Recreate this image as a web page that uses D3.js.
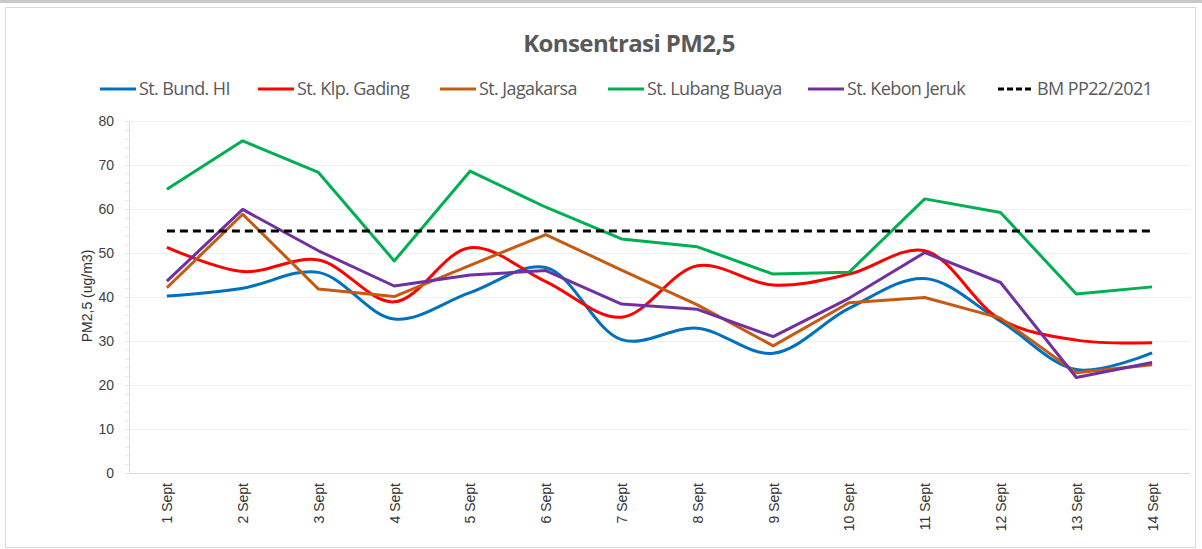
<!DOCTYPE html>
<html><head><meta charset="utf-8">
<script src="https://cdn.jsdelivr.net/npm/d3@7"></script>
<style>body{margin:0;background:#fff;}svg{display:block;}</style>
</head><body>
<svg id="c" width="1202" height="549"></svg>
<script>
const categories = ["1 Sept","2 Sept","3 Sept","4 Sept","5 Sept","6 Sept","7 Sept","8 Sept","9 Sept","10 Sept","11 Sept","12 Sept","13 Sept","14 Sept"];
const bundHI    = [40.2,42.0,45.6,35.0,41.0,46.7,30.3,32.9,27.2,37.4,44.2,34.5,23.5,27.3];
const klpGading = [51.3,45.8,48.4,38.9,51.2,43.5,35.4,47.1,42.7,45.2,50.5,34.9,30.2,29.6];
const jagakarsa = [42.1,58.8,41.8,40.1,47.2,54.2,46.1,38.2,28.9,38.7,39.9,35.2,22.8,24.6];
const lubangBuaya = [64.5,75.5,68.3,48.2,68.6,60.4,53.2,51.4,45.2,45.6,62.3,59.2,40.7,42.3];
const kebonJeruk = [43.6,59.9,50.5,42.5,45.0,46.0,38.4,37.2,31.0,39.7,50.1,43.3,21.7,25.1];
const bmPP = [55,55,55,55,55,55,55,55,55,55,55,55,55,55];
const yTicks = [0,10,20,30,40,50,60,70,80];

const series = [
  {name:"St. Bund. HI", values:bundHI, color:"#0070C0", smooth:true, lx:100},
  {name:"St. Klp. Gading", values:klpGading, color:"#FF0000", smooth:true, lx:258},
  {name:"St. Jagakarsa", values:jagakarsa, color:"#C55A11", smooth:false, lx:440},
  {name:"St. Lubang Buaya", values:lubangBuaya, color:"#00B050", smooth:false, lx:608},
  {name:"St. Kebon Jeruk", values:kebonJeruk, color:"#7030A0", smooth:false, lx:808},
  {name:"BM PP22/2021", values:bmPP, color:"#000000", smooth:false, dash:"8,5", lx:998}
];

const svg = d3.select("#c");
// frame
svg.append("rect").attr("x",0).attr("y",0).attr("width",1202).attr("height",3).attr("fill","#c8c8c8");
svg.append("rect").attr("x",5.5).attr("y",7.5).attr("width",1190).attr("height",540).attr("fill","none").attr("stroke","#d9d9d9");

const L=129, R=1190, T=121, B=473;
const x = d3.scalePoint().domain(categories).range([L,R]).padding(0.5);
const y = d3.scaleLinear().domain([0,80]).range([B,T]);

// gridlines
svg.append("g").selectAll("line").data(yTicks.filter(d=>d>0)).join("line")
  .attr("x1",L).attr("x2",R).attr("y1",d=>y(d)+0.5).attr("y2",d=>y(d)+0.5)
  .attr("stroke","#f0f0f0").attr("stroke-width",1);

// y axis
const yAxis = svg.append("g").attr("transform",`translate(${L},0)`)
  .call(d3.axisLeft(y).tickValues(yTicks).tickSize(0).tickPadding(15));
yAxis.select(".domain").attr("stroke","#d9d9d9");
yAxis.selectAll("text").attr("fill","#404040").style("font-family","Liberation Sans, Arial, sans-serif").style("font-size","14px");
// minor ticks
svg.append("g").selectAll("line").data(d3.range(0,81,2)).join("line")
  .attr("x1",L-4).attr("x2",L).attr("y1",d=>y(d)+0.5).attr("y2",d=>y(d)+0.5)
  .attr("stroke","#e6e6e6");

// x axis
const xAxis = svg.append("g").attr("transform",`translate(0,${B})`)
  .call(d3.axisBottom(x).tickSize(0).tickPadding(0));
xAxis.select(".domain").attr("stroke","#d9d9d9").attr("d",`M${L},0.5H${R}`);
xAxis.selectAll("text")
  .attr("transform","translate(0,10) rotate(-90)")
  .attr("text-anchor","end").attr("dy","0.35em").attr("x",0).attr("y",0)
  .attr("fill","#333").style("font-family","Liberation Sans, Arial, sans-serif").style("font-size","14px");

// y title
svg.append("text").attr("transform",`translate(92,296) rotate(-90)`)
  .attr("text-anchor","middle").attr("fill","#333")
  .style("font-family","Liberation Sans, Arial, sans-serif").style("font-size","14px")
  .text("PM2,5 (ug/m3)");

// lines
series.forEach(s=>{
  const line = d3.line().x((d,i)=>x(categories[i])).y(d=>y(d))
    .curve(s.smooth ? d3.curveCatmullRom.alpha(0.5) : d3.curveLinear);
  svg.append("path").datum(s.values).attr("d",line)
    .attr("fill","none").attr("stroke",s.color).attr("stroke-width",3)
    .attr("stroke-dasharray",s.dash||null).attr("stroke-linejoin","round");
});

// title
svg.append("text").attr("x",629).attr("y",52).attr("text-anchor","middle")
  .attr("fill","#595959").style("font-family","Open Sans, sans-serif")
  .style("font-size","24px").style("font-weight","bold").style("letter-spacing","-0.6px").text("Konsentrasi PM2,5");

// legend
const lg = svg.append("g");
series.forEach(s=>{
  const g = lg.append("g").attr("transform",`translate(${s.lx},89)`);
  g.append("line").attr("x1",0).attr("x2",36).attr("y1",0).attr("y2",0)
    .attr("stroke",s.color).attr("stroke-width",3).attr("stroke-dasharray",s.dash?"6,3":null);
  g.append("text").attr("x",39).attr("y",0).attr("dy","0.35em")
    .attr("fill","#595959").style("font-family","Open Sans, sans-serif")
    .style("font-size","18px").style("letter-spacing","-0.6px").text(s.name);
});
</script>
</body></html>
